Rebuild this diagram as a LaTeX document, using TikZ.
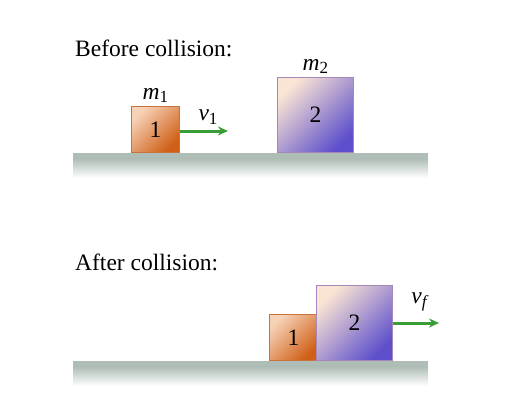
\documentclass[tikz,border=0pt]{standalone}
\usepackage{fontspec}
\setmainfont{Liberation Serif}
\usetikzlibrary{positioning,arrows.meta}

\definecolor{smalllight}{HTML}{F6D2B6}
\definecolor{smalldark}{HTML}{CF5E16}
\definecolor{smalledge}{HTML}{C8723C}
\definecolor{biglight}{HTML}{FAE4D4}
\definecolor{bigdark}{HTML}{5E50CC}
\definecolor{bigedge}{HTML}{A587B8}
\definecolor{arrowgreen}{HTML}{3A9E36}
\definecolor{groundgray}{HTML}{AEBDB5}

\newcommand{\qty}[2]{\textit{#1}\raisebox{-0.35ex}{\fontsize{17}{17}\selectfont #2}}

\begin{document}
\begin{tikzpicture}[x=1pt,y=-1pt,>={Stealth[length=10pt,width=9pt]},
                    font=\fontsize{23.5}{26}\selectfont]
  \tikzstyle{small}=[rectangle,draw=smalledge,line width=0.8pt,top color=smalllight,
                     bottom color=smalldark,shading angle=45,minimum width=48pt,
                     minimum height=46pt,inner sep=0pt,anchor=south west]
  \tikzstyle{big}=[rectangle,draw=bigedge,line width=0.8pt,top color=biglight,
                   bottom color=bigdark,shading angle=45,minimum width=76pt,
                   minimum height=75pt,inner sep=0pt,anchor=south west]
  \tikzstyle{label}=[inner sep=0pt]
  \tikzstyle{motion}=[->,draw=arrowgreen,line width=3pt]

  \useasboundingbox (0,0) rectangle (508,409);

  % before
  \node[label,anchor=base west] (before) at (75,57) {Before collision:};
  \fill[groundgray] (73,153) rectangle (428,159);
  \fill[top color=groundgray,bottom color=white] (73,158.5) rectangle (428,178);
  \node[small] (b1) at (131,153) {1};
  \node[big] (b2) at (277,153) {2};
  \node[label,above=3pt of b1] (m1) {\qty{m}{1}};
  \node[label,above=3pt of b2] (m2) {\qty{m}{2}};
  \coordinate (v1tip) at (228,131);
  \draw[motion] (b1.east |- v1tip) -- (v1tip);
  \node[label] (v1) at (208,117) {\qty{v}{1}};

  % after
  \node[label,anchor=base west] (after) at (75,270) {After collision:};
  \fill[groundgray] (73,361) rectangle (428,367);
  \fill[top color=groundgray,bottom color=white] (73,366.5) rectangle (428,386);
  \node[small] (a1) at (269,361) {1};
  \node[big] (a2) at (316,361) {2};
  \coordinate (vftip) at (439,323);
  \draw[motion] (a2.east |- vftip) -- (vftip);
  \node[label] (vf) at (420,302) {\qty{v}{\textit{f}}};
\end{tikzpicture}
\end{document}
